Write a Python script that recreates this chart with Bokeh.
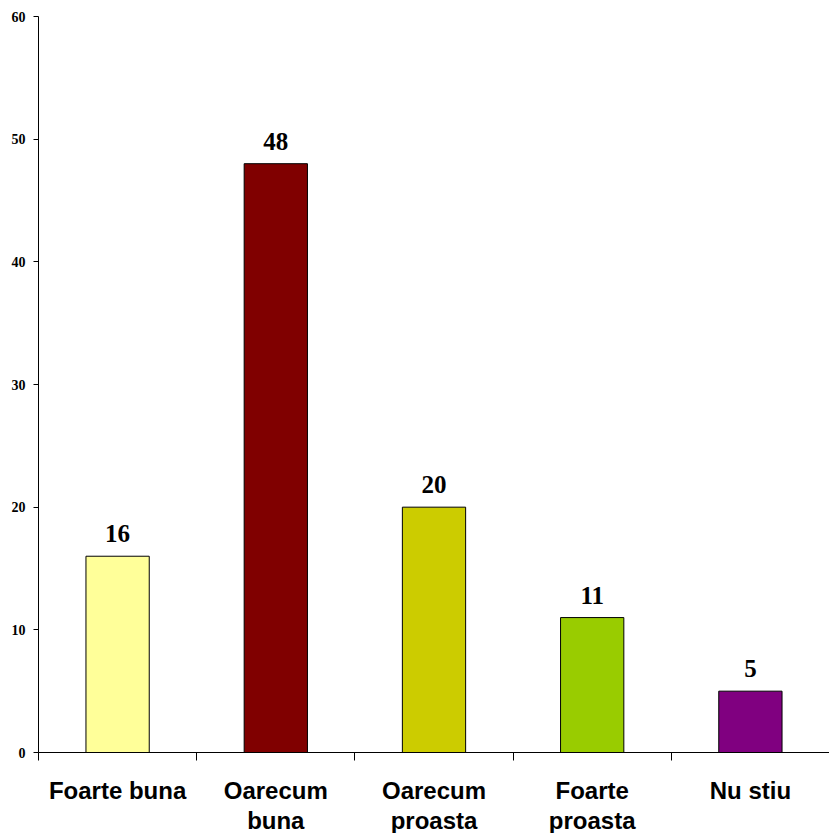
from bokeh.plotting import figure
from bokeh.models import FixedTicker, ColumnDataSource, LabelSet, Range1d
from bokeh.embed import file_html
from bokeh.resources import INLINE

categories = ["Foarte buna", "Oarecum buna", "Oarecum proasta", "Foarte proasta", "Nu stiu"]
tick_labels = ["Foarte buna", "Oarecum\nbuna", "Oarecum\nproasta", "Foarte\nproasta", "Nu stiu"]
values = [16, 48, 20, 11, 5]
colors = ["#FFFF99", "#800000", "#CCCC00", "#99CC00", "#800080"]
y_ticks = [0, 10, 20, 30, 40, 50, 60]

xs = [i + 0.5 for i in range(len(categories))]
bounds = [float(i) for i in range(len(categories) + 1)]

src = ColumnDataSource(dict(x=xs, top=values, color=colors, cat=categories,
                            label=[str(v) for v in values]))

p = figure(frame_width=791, frame_height=736, x_range=Range1d(0, len(categories)),
           y_range=Range1d(0, 60), output_backend="svg", toolbar_location=None,
           min_border_left=38, min_border_right=0, min_border_top=16,
           min_border_bottom=0)

p.vbar(x="x", top="top", bottom=0, width=0.4, fill_color="color",
       line_color="black", line_width=1, source=src)

labels = LabelSet(x="x", y="top", text="label", source=src, y_offset=14,
                  text_align="center", text_baseline="alphabetic",
                  text_font="Liberation Serif", text_font_style="bold",
                  text_font_size="25px", text_color="black")
p.add_layout(labels)

p.xgrid.visible = False
p.ygrid.visible = False
p.outline_line_color = None

xa = p.xaxis[0]
xa.ticker = FixedTicker(ticks=xs, minor_ticks=bounds)
xa.major_label_overrides = {x: l for x, l in zip(xs, tick_labels)}
xa.major_tick_line_color = None
xa.major_tick_in = 0
xa.major_tick_out = 0
xa.minor_tick_in = 0
xa.minor_tick_out = 8
xa.minor_tick_line_color = "black"
xa.axis_line_color = "black"
xa.major_label_standoff = 16
xa.major_label_text_font = "Liberation Sans"
xa.major_label_text_font_style = "bold"
xa.major_label_text_font_size = "24px"
xa.major_label_text_color = "black"
xa.major_label_text_line_height = 1.12

ya = p.yaxis[0]
ya.ticker = FixedTicker(ticks=y_ticks, minor_ticks=[])
ya.major_tick_in = 0
ya.major_tick_out = 5
ya.major_tick_line_color = "black"
ya.minor_tick_line_color = None
ya.axis_line_color = "black"
ya.major_label_standoff = 8
ya.major_label_text_font = "Liberation Serif"
ya.major_label_text_font_style = "bold"
ya.major_label_text_font_size = "14px"
ya.major_label_text_color = "black"

open("out.html", "w").write(file_html(p, INLINE))
